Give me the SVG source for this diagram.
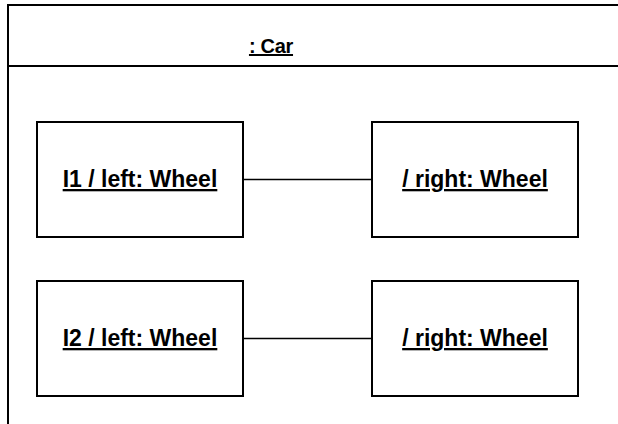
<svg xmlns="http://www.w3.org/2000/svg" width="618" height="424" viewBox="0 0 618 424">
<style>
.frame{fill:#fff;stroke:#000;stroke-width:2}
.box{fill:#fff;stroke:#000;stroke-width:2}
.lbl{font-family:"Liberation Sans",Arial,sans-serif;font-weight:bold;font-size:23px;text-anchor:middle;text-decoration:underline;fill:#000}
.title{font-family:"Liberation Sans",Arial,sans-serif;font-weight:bold;font-size:20px;text-anchor:middle;text-decoration:underline;fill:#000;letter-spacing:-0.3px}
.conn{stroke:#000;stroke-width:1.3;fill:none}
</style>
<rect width="618" height="424" fill="#fff"/>
<g id="car">
<rect class="frame" x="8" y="5" width="640" height="440"/>
<line x1="8" y1="66" x2="618" y2="66" stroke="#000" stroke-width="2"/>
<text class="title" x="271" y="53">: Car</text>
</g>
<g id="connectors">
<line class="conn" x1="243" y1="179.5" x2="372" y2="179.5"/>
<line class="conn" x1="243" y1="338.5" x2="372" y2="338.5"/>
</g>
<g id="l1">
<rect class="box" x="37" y="122" width="206" height="115"/>
<text class="lbl" x="140" y="187">I1 / left: Wheel</text>
</g>
<g id="r1">
<rect class="box" x="372" y="122" width="206" height="115"/>
<text class="lbl" x="475" y="187">/ right: Wheel</text>
</g>
<g id="l2">
<rect class="box" x="37" y="281" width="206" height="115"/>
<text class="lbl" x="140" y="346">I2 / left: Wheel</text>
</g>
<g id="r2">
<rect class="box" x="372" y="281" width="206" height="115"/>
<text class="lbl" x="475" y="346">/ right: Wheel</text>
</g>
</svg>
